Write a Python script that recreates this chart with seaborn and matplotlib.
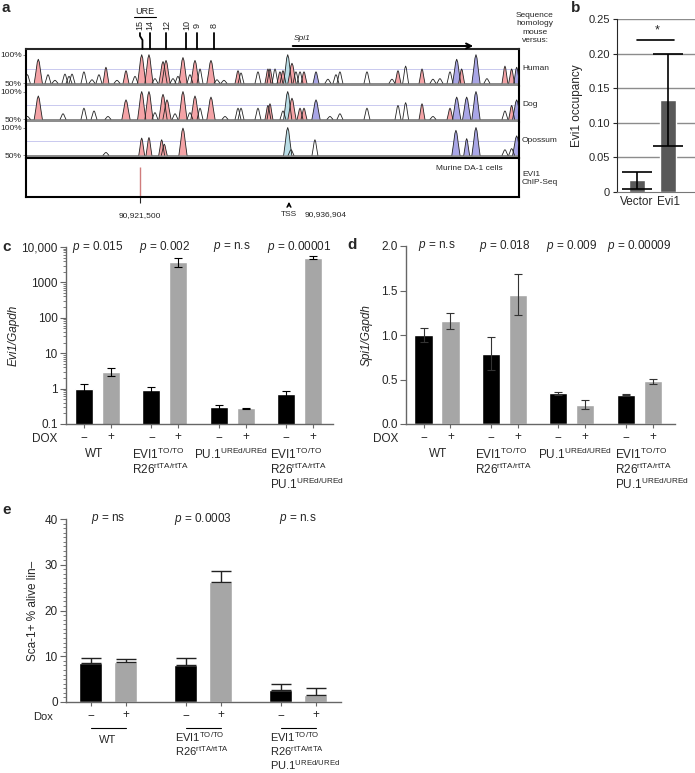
import numpy as np
import pandas as pd
import seaborn as sns
import matplotlib
matplotlib.use('Agg')
import matplotlib.pyplot as plt
from matplotlib.ticker import FixedLocator, LogLocator, MultipleLocator, NullFormatter
from matplotlib.transforms import blended_transform_factory


# ---------------- panel a : conservation around Spi1 (kb from TSS, % identity) ----------------
human_kb = [-27.0, -25.87, -24.87, -24.15, -23.12, -22.70, -22.39, -21.16, -20.33, -19.61,
            -18.89, -17.75, -16.82, -15.89, -15.20, -14.45, -13.83, -13.00, -12.69, -11.97,
            -11.46, -10.94, -10.22, -9.70, -9.18, -8.05, -7.43, -6.71, -5.26, -4.95,
            -3.20, -2.17, -1.96, -1.44, -0.93, -0.62, -0.13, 0.31, 0.72, 1.14,
            1.55, 2.79, 4.02, 4.85, 5.26, 8.05, 10.63, 11.25, 12.04, 13.73,
            14.86, 15.58, 16.62, 17.31, 17.82, 19.30, 20.43, 22.29, 22.98, 23.50]
human_pct = [65, 92, 65, 55, 66, 62, 66, 70, 56, 65,
             78, 55, 72, 62, 100, 100, 58, 88, 90, 58,
             62, 95, 65, 90, 75, 90, 56, 55, 72, 68,
             70, 75, 75, 75, 70, 72, 100, 85, 70, 70,
             70, 70, 57, 65, 70, 70, 57, 72, 80, 75,
             57, 58, 70, 92, 75, 100, 58, 80, 75, 78]
# r = conserved non-coding, b = exon, c = UTR, k = below cutoff
human_kind = list("krkkkkkkkk" "rkrkrrkrrk" "krkrkrkkrk" "krrkrrcrkk" "rbkkkkkrkr" "kkkbrbkrrb")

dog_kb = [-26.99, -25.87, -23.32, -21.16, -20.12, -18.68, -16.82, -15.20, -14.45, -13.83,
          -13.00, -12.59, -11.76, -10.94, -10.22, -9.70, -9.18, -8.05, -6.60, -5.26,
          -4.95, -3.20, -2.17, -1.96, -0.62, -0.13, 0.31, 1.14, 1.55, 2.79,
          4.23, 5.26, 8.05, 11.25, 12.04, 13.73, 14.86, 16.62, 17.31, 18.34,
          19.30, 22.29, 22.98, 23.50]
dog_pct = [55, 92, 60, 70, 65, 55, 85, 100, 100, 62,
           95, 85, 60, 100, 62, 92, 70, 90, 55, 70,
           70, 70, 75, 78, 65, 100, 88, 70, 70, 85,
           55, 60, 70, 75, 80, 78, 55, 70, 90, 90,
           100, 65, 75, 85]
dog_kind = list("krkkkkrrrk" "rrkrkrkrkk" "kkrrkcrrrb" "kkkkkrkrbb" "bkrb")

opossum_kb = [-18.89, -15.20, -14.45, -13.14, -12.87, -10.94, -0.13, 0.21, 2.68, 17.23,
              18.34, 19.30, 22.29, 22.98, 23.50]
opossum_pct = [55, 81, 82, 78, 70, 99, 100, 60, 78, 95, 80, 100, 60, 62, 85]
opossum_kind = list("krrrrrckkbbbkkb")

region_kb = (-27.14, 23.74)
chip_peak_kb = -15.404
spi1_end_kb = 19.3
ure_kb = [-15.12, -14.34, -12.64, -10.58, -9.49, -7.74]
ure_labels = ['15', '14', '12', '10', '9', '8']

# ---------------- panel b ----------------
b_labels = ['Vector', 'Evi1']
b_mean = [0.017, 0.133]
b_err = [0.012, 0.067]

# ---------------- panel c / d ----------------
dox = ['\u2212', '+']
groups4 = ['WT', 'EVI1', 'PU1', 'EVI1_PU1']
evi1_minus = [1.0, 0.90, 0.30, 0.72]
evi1_minus_err = [0.38, 0.19, 0.04, 0.15]
evi1_plus = [3.0, 3800, 0.28, 5000]
evi1_plus_err = [0.75, 1000, 0.012, 500]
c_pvals = ['0.015', '0.002', 'n.s', '0.00001']

spi1_minus = [1.00, 0.79, 0.345, 0.33]
spi1_minus_err = [0.08, 0.185, 0.015, 0.005]
spi1_plus = [1.16, 1.45, 0.217, 0.48]
spi1_plus_err = [0.09, 0.23, 0.048, 0.026]
d_pvals = ['n.s', '0.018', '0.009', '0.00009']

# ---------------- panel e ----------------
groups3 = ['WT', 'EVI1', 'EVI1_PU1']
sca_minus = [8.5, 8.0, 2.55]
sca_minus_err = [1.1, 1.55, 1.45]
sca_plus = [8.85, 26.3, 1.5]
sca_plus_err = [0.45, 2.3, 1.65]
e_pvals = ['ns', '0.0003', 'n.s']


W, H = 695, 773
sns.set_style('ticks')
plt.rcParams['font.family'] = ['Liberation Sans', 'DejaVu Sans']
plt.rcParams['mathtext.fontset'] = 'custom'
plt.rcParams['mathtext.rm'] = 'Liberation Sans'
plt.rcParams['mathtext.it'] = 'Liberation Sans:italic'
plt.rcParams['mathtext.default'] = 'regular'

fig = plt.figure(figsize=(W / 100, H / 100), dpi=100)


def box(l, t, r, b):
    # pixel box -> figure fraction
    return [l / W, 1 - b / H, (r - l) / W, (b - t) / H]


def kx(kb):
    # kb -> pixel x in panel a
    return 26 + (kb - region_kb[0]) / (region_kb[1] - region_kb[0]) * 493


FILL = {'r': '#f4a3a6', 'b': '#a9a6e6', 'c': '#b9dde6'}


def draw_peaks(ax, kb, pct, kind):
    for x, h, k in zip(kb, pct, kind):
        w = 0.42 if h >= 85 else 0.30
        xs = x + w * np.array([-1, -0.6, -0.25, 0, 0.25, 0.6, 1])
        ys = 50 + (h - 50) * np.array([0, 0.45, 0.88, 1, 0.88, 0.45, 0])
        if k != 'k':
            ax.fill(xs, ys, color=FILL[k], lw=0, zorder=2)
        ax.plot(xs, ys, color='#222222', lw=0.6, zorder=3)


# ---- panel a tracks
tracks = [('Human', human_kb, human_pct, human_kind, 49, 86),
          ('Dog', dog_kb, dog_pct, dog_kind, 86, 122),
          ('Opossum', opossum_kb, opossum_pct, opossum_kind, 122, 158)]
for i, (name, kb, pct, kind, top, bot) in enumerate(tracks):
    ax = fig.add_axes(box(26, top, 519, bot))
    ax.set_xlim(region_kb)
    ax.set_ylim(45, 110)
    ax.axhline(75, color='#c9c9ef', lw=0.7, zorder=1)
    ax.axhspan(45, 50, color='#8d8d8d', lw=0, zorder=1)
    draw_peaks(ax, kb, pct, kind)
    ax.set_xticks([])
    ax.set_yticks([50, 100])
    ax.set_yticklabels(['50%', '100%'])
    ax.tick_params(axis='y', length=2, width=0.6, labelsize=6, pad=1, color='#777777')
    for s in ['left', 'right']:
        ax.spines[s].set_linewidth(1.5)
        ax.spines[s].set_color('black')
    ax.spines['top'].set_visible(i == 0)
    ax.spines['top'].set_linewidth(1.5)
    ax.spines['bottom'].set_visible(False)

ax_chip = fig.add_axes(box(26, 158, 519, 197))
ax_chip.set_xlim(region_kb)
ax_chip.set_ylim(0, 1)
ax_chip.vlines(chip_peak_kb, 0, 0.78, color='#d07c7c', lw=1)
ax_chip.set_yticks([])
ax_chip.set_xticks([chip_peak_kb])
ax_chip.set_xticklabels(['90,921,500'])
ax_chip.tick_params(axis='x', length=4, width=0.8, labelsize=6, pad=7)
for s in ax_chip.spines.values():
    s.set_linewidth(1.5)
    s.set_color('black')

# ---- panel b
ax_b = fig.add_axes(box(617, 19, 695, 192))
sns.barplot(x=b_labels, y=b_mean, color='#595959', width=0.5, saturation=1, ax=ax_b)
ax_b.errorbar(range(len(b_labels)), b_mean, yerr=b_err, fmt='none', ecolor='black',
              elinewidth=1.2, capsize=11, capthick=1.2, zorder=4)
ax_b.set_xlim(-0.65, 1.87)
ax_b.set_ylim(0, 0.25)
ax_b.set_yticks(np.arange(0, 0.26, 0.05))
ax_b.set_yticklabels(['0', '0.05', '0.10', '0.15', '0.20', '0.25'])
for yv in np.arange(0.05, 0.26, 0.05):
    ax_b.axhline(yv, color='#8c8c8c', lw=1, zorder=0)
ax_b.plot([0, 1.2], [0.22, 0.22], color='black', lw=1.2)
ax_b.text(0.65, 0.233, '*', ha='center', va='center', fontsize=9)
ax_b.set_ylabel('Evi1 occupancy', fontsize=8.5, labelpad=4)
ax_b.tick_params(axis='y', labelsize=8, length=3, pad=2)
ax_b.tick_params(axis='x', labelsize=8.5, length=0, pad=3)
ax_b.spines['right'].set_visible(False)
ax_b.spines['top'].set_visible(False)
ax_b.spines['bottom'].set_color('#777777')


def dox_bars(ax, groups, minus, minus_err, plus, plus_err, width, gap, upper_only=False,
             ecol='black', capsize=3, elw=0.8):
    df = pd.DataFrame({'group': groups * 2,
                       'dox': [dox[0]] * len(groups) + [dox[1]] * len(groups),
                       'value': minus + plus})
    sns.barplot(data=df, x='group', y='value', hue='dox', hue_order=dox,
                palette=['black', '#a6a6a6'], width=width, gap=gap, saturation=1,
                errorbar=None, legend=False, ax=ax)
    off = width / 4
    pos = []
    for j, (vals, errs) in enumerate([(minus, minus_err), (plus, plus_err)]):
        xs = np.arange(len(groups)) + (-off if j == 0 else off)
        pos.append(xs)
        yerr = [np.zeros(len(errs)), errs] if upper_only else errs
        ax.errorbar(xs, vals, yerr=yerr, fmt='none', ecolor=ecol, elinewidth=elw,
                    capsize=capsize, capthick=elw, zorder=4)
    ticks = np.sort(np.concatenate(pos))
    ax.set_xticks(ticks)
    ax.set_xticklabels(dox * len(groups))
    ax.set_xlabel('')
    sns.despine(ax=ax)
    for s in ['left', 'bottom']:
        ax.spines[s].set_color('#666666')
        ax.spines[s].set_linewidth(1)
    ax.tick_params(axis='x', length=3, width=0.8, labelsize=8.5, pad=2, color='#666666')
    ax.tick_params(axis='y', labelsize=8.5, pad=2, color='#666666')


def pvals(ax, labels, fs=8.5):
    tr = blended_transform_factory(ax.transData, ax.transAxes)
    for i, p in enumerate(labels):
        ax.text(i, 1.0, r'$\mathit{p}$ = ' + p, transform=tr, ha='center', va='center',
                fontsize=fs)


# ---- panel c
ax_c = fig.add_axes(box(66, 247, 333, 424))
dox_bars(ax_c, groups4, evi1_minus, evi1_minus_err, evi1_plus, evi1_plus_err, 0.8, 0.33)
ax_c.set_yscale('log')
ax_c.set_ylim(0.1, 10000)
ax_c.set_xlim(-0.47, 3.5)
ax_c.yaxis.set_major_locator(FixedLocator([0.1, 1, 10, 100, 1000, 10000]))
ax_c.set_yticklabels(['0.1', '1', '10', '100', '1000', '10,000'])
ax_c.yaxis.set_minor_locator(LogLocator(base=10, subs=np.arange(2, 10)))
ax_c.yaxis.set_minor_formatter(NullFormatter())
ax_c.tick_params(axis='y', which='major', length=4)
ax_c.tick_params(axis='y', which='minor', length=2, color='#666666')
ax_c.set_ylabel('Evi1/Gapdh', fontsize=8.5, fontstyle='italic', labelpad=1)
pvals(ax_c, c_pvals)

# ---- panel d
ax_d = fig.add_axes(box(406, 246, 675, 424))
dox_bars(ax_d, groups4, spi1_minus, spi1_minus_err, spi1_plus, spi1_plus_err, 0.8, 0.33,
         ecol='#333333')
ax_d.set_ylim(0, 2.0)
ax_d.set_xlim(-0.46, 3.53)
ax_d.set_yticks([0, 0.5, 1.0, 1.5, 2.0])
ax_d.set_yticklabels(['0.0', '0.5', '1.0', '1.5', '2.0'])
ax_d.tick_params(axis='y', length=4)
ax_d.set_ylabel('Spi1/Gapdh', fontsize=8.5, fontstyle='italic', labelpad=6)
pvals(ax_d, d_pvals)

# ---- panel e
ax_e = fig.add_axes(box(66, 519, 341, 702))
dox_bars(ax_e, groups3, sca_minus, sca_minus_err, sca_plus, sca_plus_err, 0.745, 0.35,
         upper_only=True, ecol='#222222', capsize=7, elw=1)
ax_e.set_ylim(0, 40)
ax_e.set_xlim(-0.445, 2.45)
ax_e.set_yticks([0, 10, 20, 30, 40])
ax_e.yaxis.set_minor_locator(MultipleLocator(1))
ax_e.tick_params(axis='y', which='major', length=4)
ax_e.tick_params(axis='y', which='minor', length=2, color='#666666')
ax_e.set_ylabel('Sca-1+ % alive lin\u2013', fontsize=8.5, labelpad=4)
pvals(ax_e, e_pvals)
tr_e = blended_transform_factory(ax_e.transData, ax_e.transAxes)
for i in range(len(groups3)):
    ax_e.plot([i - 0.186, i + 0.186], [-0.142, -0.142], color='black', lw=0.8,
              transform=tr_e, clip_on=False)

# ---------------- free text layer (pixel coords) ----------------
ov = fig.add_axes([0, 0, 1, 1])
ov.set_xlim(0, W)
ov.set_ylim(H, 0)
ov.axis('off')

for lab, x, y in [('a', 2, 8), ('b', 571, 8), ('c', 2, 247), ('d', 347, 245), ('e', 2, 510)]:
    ov.text(x, y, lab, fontsize=11, fontweight='bold', ha='left', va='center')

# URE marks
ov.text(145, 12, 'URE', fontsize=6.5, ha='center', va='center')
ov.plot([134, 156], [16.5, 16.5], color='black', lw=0.8)
for j, (k, lab) in enumerate(zip(ure_kb, ure_labels)):
    xb = kx(k)
    xt = xb - 2.5 if j == 0 else xb
    ov.text(xt, 25, lab, fontsize=6.5, rotation=90, ha='center', va='center')
    if j == 0:
        ov.plot([xt, xt, xb, xb], [33, 36, 40, 49], color='black', lw=1.3)
    else:
        ov.plot([xb, xb], [33, 49], color='black', lw=1.3)

ov.annotate('', xy=(kx(spi1_end_kb), 46), xytext=(kx(0.1), 46),
            arrowprops=dict(arrowstyle='->', lw=1.4, color='black', mutation_scale=9))
ov.text(294, 38, 'Spi1', fontsize=6, fontstyle='italic', ha='left', va='center')

ov.text(535, 28, 'Sequence\nhomology\nmouse\nversus:', fontsize=6, ha='center', va='center',
        linespacing=1.25)
for name, y in [('Human', 68), ('Dog', 104), ('Opossum', 140)]:
    ov.text(522, y, name, fontsize=6, ha='left', va='center')
ov.text(522, 178, 'EVI1\nChIP-Seq', fontsize=6, ha='left', va='center', linespacing=1.2)
ov.text(503, 169, 'Murine DA-1 cells', fontsize=6, ha='right', va='center')

ov.annotate('', xy=(kx(0), 199), xytext=(kx(0), 209),
            arrowprops=dict(arrowstyle='->', lw=1, color='black', mutation_scale=7))
ov.text(kx(0), 214.5, 'TSS', fontsize=6, ha='center', va='center')
ov.text(326, 214.5, '90,936,904', fontsize=6, ha='center', va='center')

# genotype labels
evi = r'EVI1$^{TO/TO}$'
r26 = r'R26$^{rtTA/rtTA}$'
pu1 = r'PU.1$^{UREd/UREd}$'
fs = 8.5
for x_dox in [57, 398]:
    ov.text(x_dox, 439, 'DOX', fontsize=fs, ha='right', va='center')
for xw, xe, xp, xl in [(94, 132, 194, 270), (438, 475, 538, 615)]:
    ov.text(xw, 454, 'WT', fontsize=fs, ha='center', va='center')
    ov.text(xe, 454, evi, fontsize=fs, ha='left', va='center')
    ov.text(xe, 469, r26, fontsize=fs, ha='left', va='center')
    ov.text(xp, 454, pu1, fontsize=fs, ha='left', va='center')
    ov.text(xl, 454, evi, fontsize=fs, ha='left', va='center')
    ov.text(xl, 469, r26, fontsize=fs, ha='left', va='center')
    ov.text(xl, 484, pu1, fontsize=fs, ha='left', va='center')

fe = 8
ov.text(53, 717, 'Dox', fontsize=fe, ha='right', va='center')
ov.text(108, 740, 'WT', fontsize=fe, ha='center', va='center')
ov.text(175, 737, evi, fontsize=fe, ha='left', va='center')
ov.text(175, 751, r26, fontsize=fe, ha='left', va='center')
ov.text(270, 737, evi, fontsize=fe, ha='left', va='center')
ov.text(270, 751, r26, fontsize=fe, ha='left', va='center')
ov.text(270, 765, pu1, fontsize=fe, ha='left', va='center')

fig.savefig('out.png', dpi=100)
